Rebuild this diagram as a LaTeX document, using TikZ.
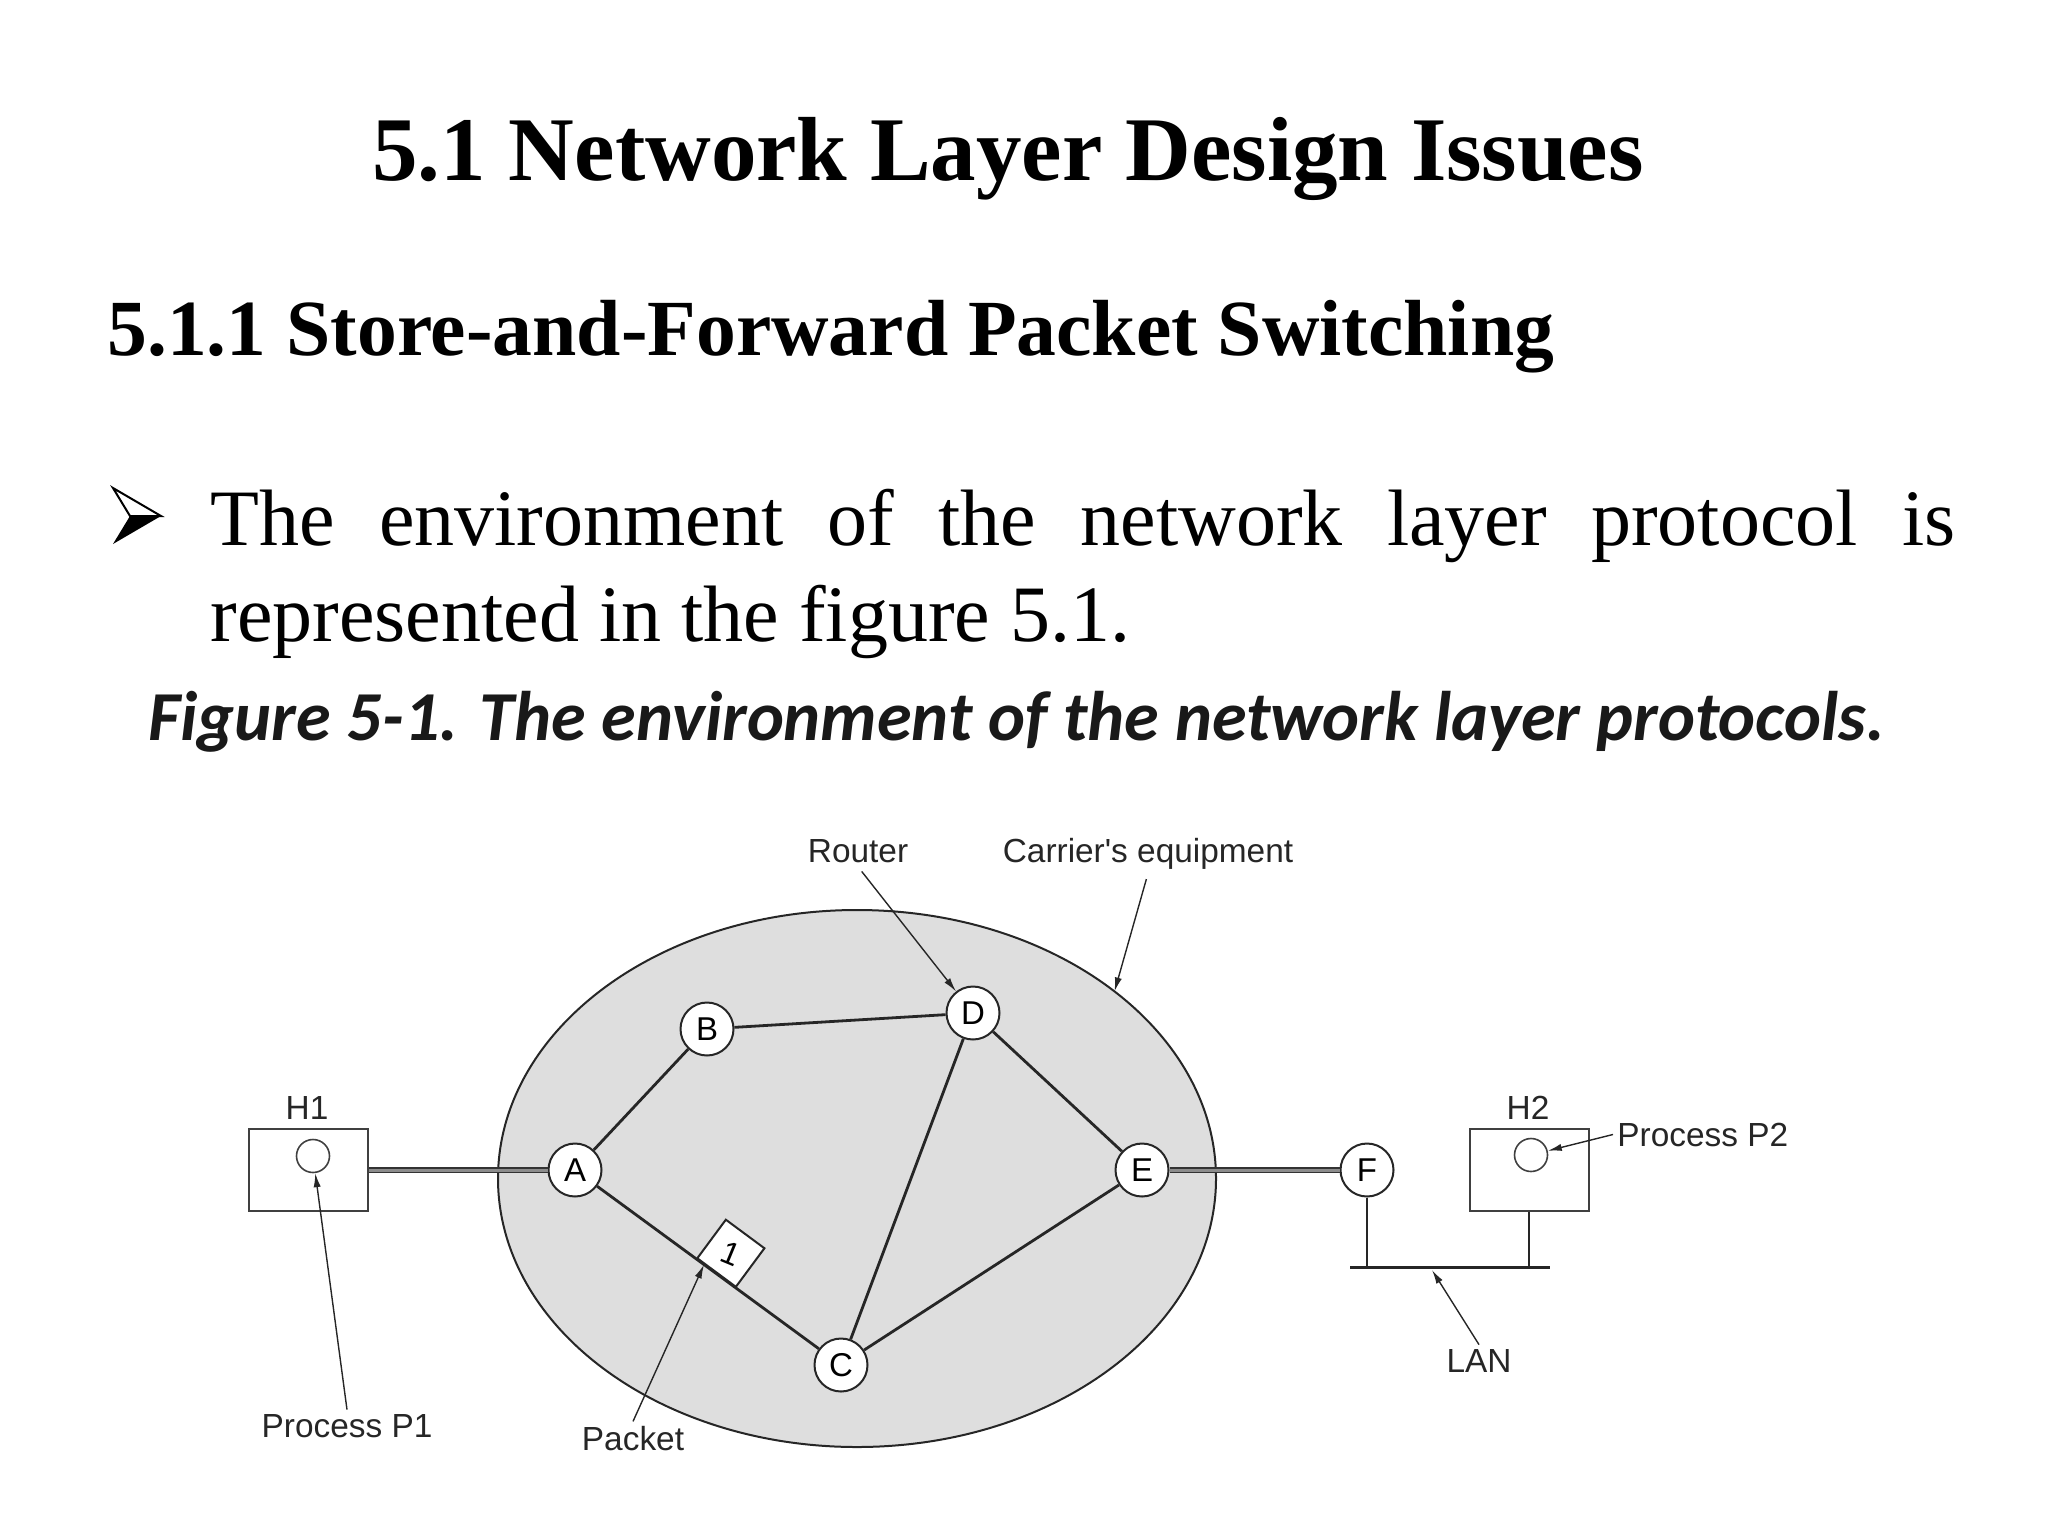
\documentclass[tikz,border=0pt]{standalone}
\usepackage{fontspec}
\setmainfont{Liberation Serif}
\newfontfamily\labelfont{Liberation Sans}
\newfontfamily\capfont{Carlito}
\usetikzlibrary{shapes.geometric,arrows.meta,calc}
\begin{document}
\begin{tikzpicture}[x=0.5pt,y=-0.5pt,
  router/.style={circle, draw=black!85, line width=1pt, fill=white, minimum size=26.5pt, inner sep=0pt, font=\labelfont\fontsize{16.5}{17}\selectfont},
  edge/.style={line width=1.4pt, draw=black!85},
  hostlink/.style={draw=black!80, line width=0.7pt, double=black!45, double distance=1.5pt},
  lbl/.style={font=\labelfont\fontsize{16.7}{20}\selectfont, text=black!85, inner sep=2pt, anchor=base},
  ptr/.style={draw=black!85, line width=0.7pt, -{Latex[length=7pt,width=3.6pt]}},
  hostbox/.style={draw=black!75, line width=1pt, minimum width=59.5pt, minimum height=41pt, inner sep=0pt},
  proc/.style={circle, draw=black!75, line width=0.8pt, minimum size=16.5pt, inner sep=0pt},
  bus/.style={draw=black!85, line width=1.5pt},
  slide/.style={anchor=base west, inner sep=0pt}
]
\useasboundingbox (0,0) rectangle (2048,1536);

% slide text
\node[slide, font=\bfseries\fontsize{45.5}{50}\selectfont] (title) at (372,180) {5.1 Network Layer Design Issues};
\node[slide, font=\bfseries\fontsize{39.8}{44}\selectfont] (sub) at (107,355) {5.1.1 Store-and-Forward Packet Switching};
% bullet arrowhead
\draw[line width=1pt, fill=white, line join=miter] (113,488) -- (161,516) -- (130,516) -- cycle;
\fill (113,544) -- (161,516) -- (130,516) -- cycle;
\node[slide, font=\fontsize{40}{46}\selectfont] (line1) at (210,545) {\makebox[872.5pt][s]{The environment of the network layer protocol is}};
\node[slide, font=\fontsize{40}{46}\selectfont] (line2) at (210,641) {represented in the figure 5.1.};
\node[slide, font=\capfont\bfseries\itshape\fontsize{35.1}{38}\selectfont, text=black!90] (caption) at (148,740) {Figure 5-1. The environment of the network layer protocols.};

% carrier's equipment
\node[ellipse, draw=black!85, line width=1pt, fill=black!13, minimum width=359pt, minimum height=268.5pt, inner sep=0pt, outer sep=0pt] (carrier) at (857,1178.5) {};

% routers
\node[router] (A) at (575,1170) {A};
\node[router] (B) at (707,1029) {B};
\node[router] (D) at (973,1013) {D};
\node[router] (C) at (841,1365) {C};
\node[router] (E) at (1142,1170) {E};
\node[router] (F) at (1367,1170) {F};

\draw[edge] (A) -- (B);
\draw[edge] (B) -- (D);
\draw[edge] (D) -- (E);
\draw[edge] (D) -- (C);
\draw[edge] (A) -- (C);
\draw[edge] (C) -- (E);

% packet
\coordinate (pkbase) at ($(A)!0.53!(C)$);
\coordinate (pktip) at ($(A)!0.485!(C)$);
\node[draw=black!85, fill=white, line width=1pt, rotate=-36.5, minimum size=24pt, inner sep=0pt, anchor=south, font=\labelfont\fontsize{16}{16}\selectfont] (pkt) at (pkbase) {\rotatebox{14}{1}};

% hosts
\node[hostbox] (h1box) at (308.5,1170) {};
\node[proc] (h1proc) at (313,1156) {};
\node[hostbox] (h2box) at (1529,1169.5) {};
\node[proc] (h2proc) at (1531,1155) {};

\draw[hostlink] (h1box.east) -- (A.west);
\draw[hostlink] (E.east) -- (F.west);

% LAN
\coordinate (busL) at (1350,1267);
\coordinate (busR) at (1550,1267);
\coordinate (lanpt) at (1432,1270);
\draw[bus] (busL) -- (busR);
\draw[line width=1pt, draw=black!85] (F.south) -- (F.south |- busL);
\draw[line width=1pt, draw=black!85] (h2box.south) -- (h2box.south |- busL);

% labels
\node[lbl] (router) at (858,862) {Router};
\node[lbl] (carrierlbl) at (1148,862) {Carrier's equipment};
\node[lbl] (h1lbl) at (307,1119) {H1};
\node[lbl] (h2lbl) at (1528,1119) {H2};
\node[lbl, anchor=base west] (p2lbl) at (1613,1146) {Process P2};
\node[lbl] (p1lbl) at (347,1437) {Process P1};
\node[lbl] (pktlbl) at (633,1450) {Packet};
\node[lbl] (lanlbl) at (1479,1372) {LAN};

% pointers
\draw[ptr, shorten <=3pt] (router.south) -- (D);
\draw[ptr, shorten <=3pt] (carrierlbl.south) -- (carrier.36);
\draw[ptr] (p1lbl.north) -- (h1proc);
\draw[ptr] (pktlbl.north) -- (pktip);
\draw[ptr] (lanlbl.north) -- (lanpt);
\draw[ptr] (p2lbl.west) -- (h2proc);
\end{tikzpicture}
\end{document}
